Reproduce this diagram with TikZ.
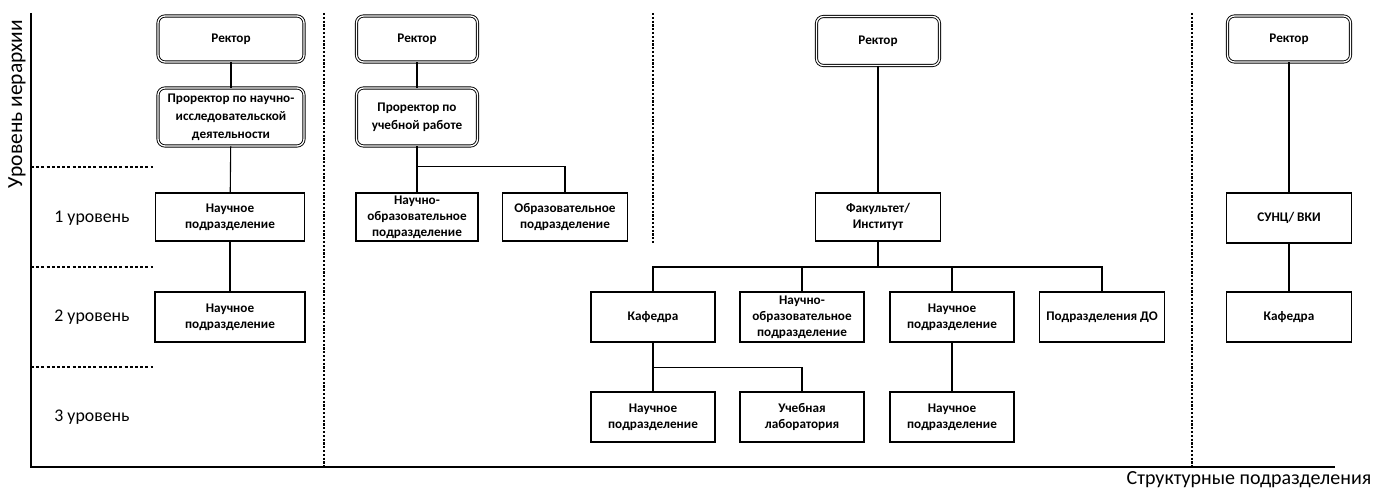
\documentclass[tikz,border=0pt]{standalone}
\usepackage{fontspec}
\setmainfont{Carlito}
\begin{document}
\begin{tikzpicture}[x=1pt,y=-1pt,
  box/.style={draw=black, line width=1.1pt, fill=white, inner sep=0pt, align=center,
    font=\bfseries\fontsize{13.2}{16}\selectfont},
  rbox/.style={box, rounded corners=7pt, double=white, double distance=1.3pt, line width=0.9pt},
  conn/.style={draw=black, line width=1.1pt},
  lvl/.style={draw=black, line width=1.6pt, dash pattern=on 3pt off 2.2pt},
  divd/.style={draw=black, line width=1.8pt, dash pattern=on 2.2pt off 1.6pt},
  axis/.style={draw=black, line width=1.2pt},
  lbl/.style={font=\fontsize{17.8}{20}\selectfont, inner sep=0pt},
  axlbl/.style={font=\fontsize{20}{22}\selectfont, inner sep=0pt}]
\useasboundingbox (0,0) rectangle (1374,489);
\fill[white] (0,0) rectangle (1374,489);

% axes
\coordinate (ax0) at (31,13);
\coordinate (axo) at (31,467);
\coordinate (ax1) at (1335,467);
\draw[axis] (ax0) -- (axo) -- (ax1);
\node[axlbl, rotate=90, font=\fontsize{21.5}{24}\selectfont] (ylab) at (17,104) {Уровень иерархии};
\node[axlbl] (xlab) at (1249,480) {Структурные подразделения};

% level lines
\coordinate (l1a) at (31,167); \coordinate (l1b) at (153,167);
\coordinate (l2a) at (31,267); \coordinate (l2b) at (153,267);
\coordinate (l3a) at (31,367); \coordinate (l3b) at (153,367);
\draw[lvl] (l1a) -- (l1b);
\draw[lvl] (l2a) -- (l2b);
\draw[lvl] (l3a) -- (l3b);
\node[lbl] (lev1) at (92,218) {1 уровень};
\node[lbl] (lev2) at (92,317) {2 уровень};
\node[lbl] (lev3) at (92,417) {3 уровень};

% dividers
\coordinate (d1a) at (324,13); \coordinate (d1b) at (324,467);
\coordinate (d2a) at (653,13); \coordinate (d2b) at (653,243);
\coordinate (d3a) at (1192,13); \coordinate (d3b) at (1192,467);
\draw[divd] (d1a) -- (d1b);
\draw[divd] (d2a) -- (d2b);
\draw[divd] (d3a) -- (d3b);

% column 1
\node[rbox, minimum width=146pt, minimum height=46pt] (r1) at (231,39) {Ректор};
\node[rbox, minimum width=146pt, minimum height=58pt, font=\bfseries\fontsize{13.2}{18}\selectfont] (p1) at (231,117) {Проректор по научно-\\исследовательской\\деятельности};
\node[box, minimum width=149pt, minimum height=48pt] (n11) at (230,217) {Научное\\подразделение};
\node[box, minimum width=150pt, minimum height=50pt] (n12) at (230,317) {Научное\\подразделение};
\draw[conn] (r1) -- (p1);
\draw[conn] (p1) -- (n11);
\draw[conn] (n11) -- (n12);

% column 2
\node[rbox, minimum width=121pt, minimum height=46pt] (r2) at (417,39) {Ректор};
\node[rbox, minimum width=121pt, minimum height=58pt, font=\bfseries\fontsize{13.2}{18}\selectfont] (p2) at (417,117) {Проректор по\\учебной работе};
\node[box, minimum width=122pt, minimum height=48pt] (no2) at (417,217) {Научно-\\образовательное\\подразделение};
\node[box, minimum width=125pt, minimum height=48pt] (o2) at (565,217) {Образовательное\\подразделение};
\draw[conn] (r2) -- (p2);
\draw[conn] (p2) -- (no2);
\draw[conn] (p2.south) ++(0,20) -| (o2.north);

% column 3
\node[rbox, minimum width=123pt, minimum height=49pt] (r3) at (878,41) {Ректор};
\node[box, minimum width=125pt, minimum height=48pt] (f3) at (878,217) {Факультет/\\Институт};
\node[box, minimum width=124pt, minimum height=50pt] (k3) at (653,317) {Кафедра};
\node[box, minimum width=124pt, minimum height=50pt] (no3) at (802,317) {Научно-\\образовательное\\подразделение};
\node[box, minimum width=124pt, minimum height=50pt] (n3) at (952,317) {Научное\\подразделение};
\node[box, minimum width=125pt, minimum height=50pt] (do3) at (1102,317) {Подразделения ДО};
\node[box, minimum width=124pt, minimum height=50pt] (kn3) at (653,417) {Научное\\подразделение};
\node[box, minimum width=124pt, minimum height=50pt] (ul3) at (802,417) {Учебная\\лаборатория};
\node[box, minimum width=124pt, minimum height=50pt] (nn3) at (952,417) {Научное\\подразделение};
\draw[conn] (r3) -- (f3);
\coordinate (h3) at (878,267);
\draw[conn] (f3.south) -- (h3);
\draw[conn] (h3) -| (k3.north);
\draw[conn] (h3) -| (no3.north);
\draw[conn] (h3) -| (n3.north);
\draw[conn] (h3) -| (do3.north);
\draw[conn] (k3) -- (kn3);
\draw[conn] (k3.south) ++(0,25) -| (ul3.north);
\draw[conn] (n3) -- (nn3);

% column 4
\node[rbox, minimum width=123pt, minimum height=46pt] (r4) at (1289,39) {Ректор};
\node[box, minimum width=125pt, minimum height=50pt] (s4) at (1289,218) {СУНЦ/ ВКИ};
\node[box, minimum width=125pt, minimum height=50pt] (k4) at (1289,317) {Кафедра};
\draw[conn] (r4) -- (s4);
\draw[conn] (s4) -- (k4);
\end{tikzpicture}
\end{document}
